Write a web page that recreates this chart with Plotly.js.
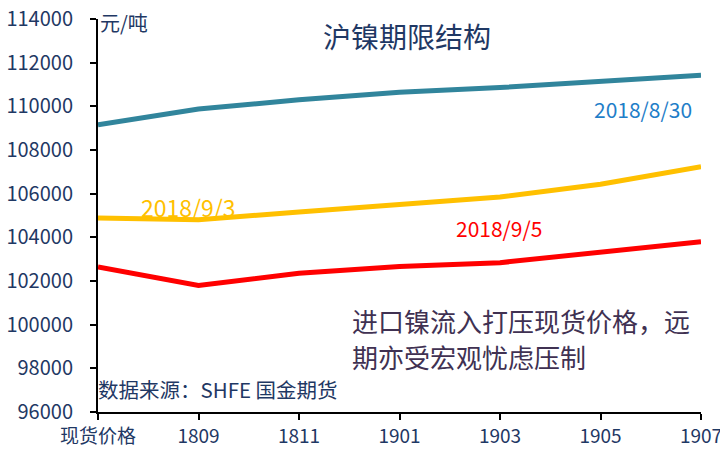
<!DOCTYPE html>
<html>
<head>
<meta charset="utf-8">
<script src="https://cdn.plot.ly/plotly-3.0.1.min.js"></script>
<style>
html,body{margin:0;padding:0;background:#fff;}
#chart{width:720px;height:452px;}
</style>
</head>
<body>
<div id="chart"></div>
<script>
const categories = ["现货价格", "1809", "1811", "1901", "1903", "1905", "1907"];
const s0830 = [109150, 109880, 110300, 110650, 110860, 111120, 111420];
const s0903 = [104880, 104810, 105160, 105530, 105850, 106430, 107240];
const s0905 = [102640, 101800, 102350, 102660, 102840, 103340, 103800];
const seriesNames = ["2018/8/30", "2018/9/3", "2018/9/5"];
const yTicks = [96000, 98000, 100000, 102000, 104000, 106000, 108000, 110000, 112000, 114000];

const navy = "#1F3864";
const cjk = "Noto Sans CJK SC, Noto Sans, sans-serif";

const traces = [
  {x: categories, y: s0830, name: seriesNames[0], mode: "lines", line: {color: "#31859C", width: 5}},
  {x: categories, y: s0903, name: seriesNames[1], mode: "lines", line: {color: "#FFC000", width: 5}},
  {x: categories, y: s0905, name: seriesNames[2], mode: "lines", line: {color: "#FF0000", width: 5}}
];

const layout = {
  width: 720, height: 452,
  margin: {l: 98, r: 19, t: 19, b: 40},
  paper_bgcolor: "#fff", plot_bgcolor: "#fff",
  showlegend: false,
  font: {family: cjk, color: navy},
  xaxis: {
    type: "category", categoryorder: "array", categoryarray: categories,
    range: [0, 6], showgrid: false, zeroline: false,
    showline: true, linecolor: "#000", linewidth: 2,
    ticks: "outside", ticklen: 6, tickcolor: "#000", tickwidth: 2,
    tickfont: {family: cjk, size: 19, color: navy}
  },
  yaxis: {
    range: [96000, 114000], tickvals: yTicks, ticktext: yTicks.map(String),
    showgrid: false, zeroline: false,
    showline: true, linecolor: "#000", linewidth: 2,
    ticks: "outside", ticklen: 6, tickcolor: "#000", tickwidth: 2,
    ticklabelstandoff: 13,
    tickfont: {family: cjk, size: 20, color: navy}
  },
  annotations: [
    {xref: "paper", yref: "paper", x: 0.513, y: 0.958, xanchor: "center", yanchor: "middle",
     text: "沪镍期限结构", showarrow: false, font: {family: cjk, size: 28, color: navy}},
    {xref: "paper", yref: "paper", x: 0.0, y: 0.992, xanchor: "left", yanchor: "middle",
     text: "元/吨", showarrow: false, font: {family: cjk, size: 20, color: navy}},
    {xref: "x", yref: "y", x: 5.42, y: 109900, xanchor: "center", yanchor: "middle",
     text: seriesNames[0], showarrow: false, font: {family: cjk, size: 21, color: "#1F7EC8"}},
    {xref: "x", yref: "y", x: 0.9, y: 105400, xanchor: "center", yanchor: "middle",
     text: seriesNames[1], showarrow: false, font: {family: cjk, size: 23, color: "#FFC000"}},
    {xref: "x", yref: "y", x: 3.99, y: 104450, xanchor: "center", yanchor: "middle",
     text: seriesNames[2], showarrow: false, font: {family: cjk, size: 21, color: "#FF0000"}},
    {xref: "paper", yref: "paper", x: 0.418, y: 0.232, xanchor: "left", yanchor: "middle",
     text: "进口镍流入打压现货价格，远", showarrow: false,
     font: {family: cjk, size: 26, color: "#403152"}},
    {xref: "paper", yref: "paper", x: 0.418, y: 0.142, xanchor: "left", yanchor: "middle",
     text: "期亦受宏观忧虑压制", showarrow: false,
     font: {family: cjk, size: 26, color: "#403152"}},
    {xref: "paper", yref: "paper", x: -0.004, y: 0.0585, xanchor: "left", yanchor: "middle",
     text: "数据来源：SHFE 国金期货", showarrow: false, font: {family: cjk, size: 20.5, color: navy}}
  ]
};

Plotly.newPlot("chart", traces, layout, {displayModeBar: false, staticPlot: true});
</script>
</body>
</html>
